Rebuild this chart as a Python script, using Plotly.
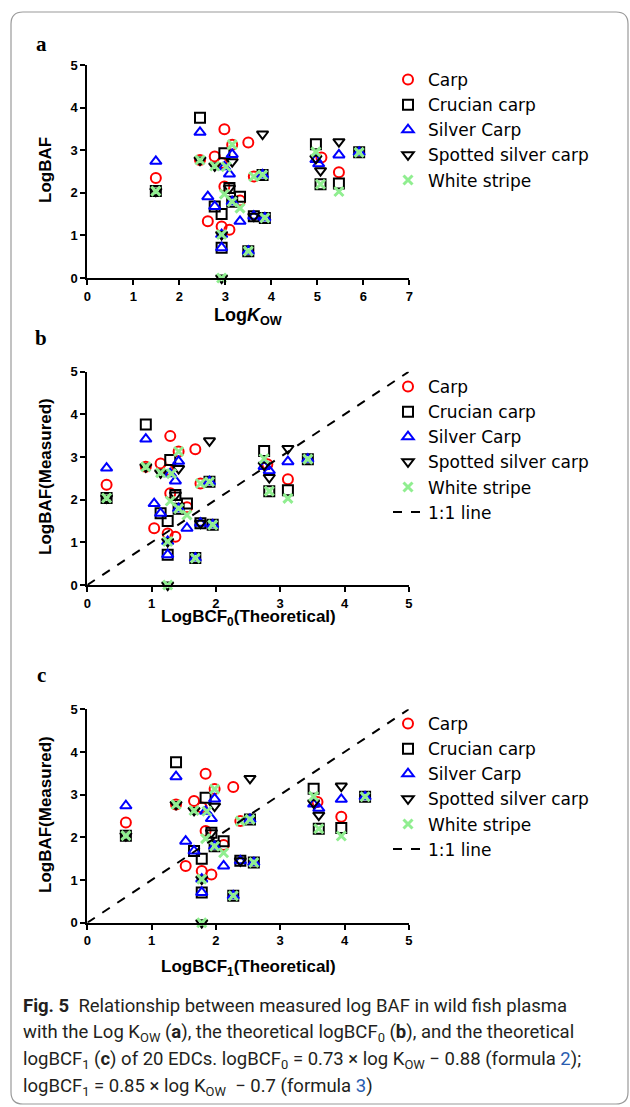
import plotly.graph_objects as go

W, H = 630, 1107

# ---------------- data ----------------
# Carp
carp_kow  = [1.49, 2.45, 2.62, 2.77, 2.92, 2.92, 2.98, 2.98, 3.09, 3.15, 3.32, 3.50, 3.62, 5.09, 5.47]
carp_bcf0 = [0.30, 0.91, 1.04, 1.14, 1.25, 1.25, 1.29, 1.29, 1.37, 1.42, 1.55, 1.68, 1.76, 2.80, 3.12]
carp_bcf1 = [0.60, 1.38, 1.53, 1.66, 1.78, 1.78, 1.84, 1.84, 1.93, 1.98, 2.12, 2.27, 2.38, 3.58, 3.95]
carp_baf  = [2.35, 2.77, 1.33, 2.85, 1.21, 2.70, 3.49, 2.15, 1.13, 3.13, 1.82, 3.18, 2.38, 2.83, 2.48]

# Crucian carp
cruc_kow  = [1.49, 2.45, 2.77, 2.92, 2.92, 2.98, 3.09, 3.15, 3.32, 3.50, 3.62, 3.81, 3.86, 4.97, 5.07, 5.47, 5.91]
cruc_bcf0 = [0.30, 0.91, 1.14, 1.25, 1.25, 1.29, 1.37, 1.42, 1.55, 1.68, 1.76, 1.90, 1.95, 2.75, 2.83, 3.12, 3.43]
cruc_bcf1 = [0.60, 1.38, 1.66, 1.78, 1.78, 1.84, 1.93, 1.98, 2.12, 2.27, 2.38, 2.53, 2.59, 3.52, 3.60, 3.95, 4.32]
cruc_baf  = [2.04, 3.76, 1.68, 1.50, 0.71, 2.93, 2.11, 1.79, 1.91, 0.63, 1.45, 2.42, 1.41, 3.14, 2.20, 2.22, 2.95]

# Silver carp
silv_kow  = [1.49, 2.45, 2.62, 2.77, 2.92, 2.92, 2.98, 3.09, 3.15, 3.15, 3.32, 3.50, 3.62, 3.81, 3.86, 4.97, 5.03, 5.47, 5.91]
silv_bcf0 = [0.30, 0.91, 1.04, 1.14, 1.25, 1.25, 1.29, 1.37, 1.42, 1.42, 1.55, 1.68, 1.76, 1.90, 1.95, 2.75, 2.83, 3.12, 3.43]
silv_bcf1 = [0.60, 1.38, 1.53, 1.66, 1.78, 1.78, 1.84, 1.93, 1.98, 1.98, 2.12, 2.27, 2.38, 2.53, 2.59, 3.52, 3.60, 3.95, 4.32]
silv_baf  = [2.74, 3.42, 1.91, 1.68, 1.02, 0.71, 2.61, 2.44, 2.90, 1.79, 1.33, 0.63, 1.45, 2.42, 1.41, 2.78, 2.68, 2.89, 2.95]

# Spotted silver carp
spot_kow  = [1.49, 2.45, 2.77, 2.92, 2.92, 3.09, 3.15, 3.62, 3.81, 4.97, 5.07, 5.47]
spot_bcf0 = [0.30, 0.91, 1.14, 1.25, 1.25, 1.37, 1.42, 1.76, 1.90, 2.75, 2.83, 3.12]
spot_bcf1 = [0.60, 1.38, 1.66, 1.78, 1.78, 1.93, 1.98, 2.38, 2.53, 3.52, 3.60, 3.95]
spot_baf  = [2.04, 2.77, 2.63, 1.02, 0.00, 2.11, 2.73, 1.45, 3.38, 2.81, 2.52, 3.20]

# White stripe
whit_kow  = [1.49, 2.45, 2.77, 2.92, 2.92, 3.02, 2.98, 3.15, 3.15, 3.32, 3.50, 3.62, 3.81, 3.86, 4.97, 5.07, 5.47, 5.91]
whit_bcf0 = [0.30, 0.91, 1.14, 1.25, 1.25, 1.31, 1.29, 1.42, 1.42, 1.55, 1.68, 1.76, 1.90, 1.95, 2.75, 2.83, 3.12, 3.43]
whit_bcf1 = [0.60, 1.38, 1.66, 1.78, 1.78, 1.86, 1.84, 1.98, 1.98, 2.12, 2.27, 2.38, 2.53, 2.59, 3.52, 3.60, 3.95, 4.32]
whit_baf  = [2.04, 2.77, 2.63, 1.02, 0.00, 2.61, 1.97, 3.13, 1.79, 1.64, 0.63, 2.38, 2.42, 1.41, 2.96, 2.20, 2.03, 2.95]

species_names = ["Carp", "Crucian carp", "Silver Carp", "Spotted silver carp", "White stripe"]
line_x = [0, 5]
line_y = [0, 5]

# ---------------- styles ----------------
styles = [
    dict(symbol="circle-open", color="#ff0000", size=10, lw=2),
    dict(symbol="square-open", color="#000000", size=10, lw=2),
    dict(symbol="triangle-up-open", color="#0000ff", size=10, lw=2),
    dict(symbol="triangle-down-open", color="#000000", size=10, lw=2),
    dict(symbol="x-thin-open", color="#90ee90", size=9, lw=3),
]
series = [
    (carp_kow, carp_bcf0, carp_bcf1, carp_baf),
    (cruc_kow, cruc_bcf0, cruc_bcf1, cruc_baf),
    (silv_kow, silv_bcf0, silv_bcf1, silv_baf),
    (spot_kow, spot_bcf0, spot_bcf1, spot_baf),
    (whit_kow, whit_bcf0, whit_bcf1, whit_baf),
]

fig = go.Figure()
panels = [("x", "y", "legend"), ("x2", "y2", "legend2"), ("x3", "y3", "legend3")]
for p, (xa, ya, lg) in enumerate(panels):
    for i, (name, st, ser) in enumerate(zip(species_names, styles, series)):
        fig.add_trace(go.Scatter(
            x=ser[p], y=ser[3], mode="markers", name=name,
            xaxis=xa, yaxis=ya, legend=lg, legendgroup=f"{lg}{i}",
            cliponaxis=False,
            marker=dict(symbol=st["symbol"], size=st["size"], color=st["color"],
                        line=dict(color=st["color"], width=st["lw"])),
        ))
    if p > 0:
        fig.add_trace(go.Scatter(
            x=line_x, y=line_y, mode="lines", name="1:1 line",
            xaxis=xa, yaxis=ya, legend=lg, legendgroup=f"{lg}line",
            line=dict(color="black", width=2, dash="dash"),
        ))

def px_x(v):
    return v / W

def px_y(v):
    return 1 - v / H

tickfont = dict(family="Liberation Sans, Arial", size=13, color="black", weight="bold")
axcommon = dict(showgrid=False, zeroline=False, showline=True, linewidth=2, linecolor="black",
                ticks="outside", ticklen=5, tickwidth=2, tickcolor="black", dtick=1,
                tickfont=tickfont, fixedrange=True, automargin=False)

# panel geometry (pixels)
xl = 87.3
geo = {
    "a": dict(x1=409.3, yb=278.0, yt=65.0, xr=[0, 7]),
    "b": dict(x1=408.8, yb=585.0, yt=371.7, xr=[0, 5]),
    "c": dict(x1=408.8, yb=922.7, yt=709.3, xr=[0, 5]),
}
ids = [("a", "xaxis", "yaxis", "x", "y"), ("b", "xaxis2", "yaxis2", "x2", "y2"),
       ("c", "xaxis3", "yaxis3", "x3", "y3")]
lay = {}
for key, xn, yn, xa, ya in ids:
    g = geo[key]
    lay[xn] = dict(axcommon, domain=[px_x(xl), px_x(g["x1"])], range=g["xr"], anchor=ya)
    lay[yn] = dict(axcommon, domain=[px_y(g["yb"]), px_y(g["yt"])], range=[0, 5], anchor=xa)
fig.update_layout(**lay)

legfont = dict(family="DejaVu Sans, Verdana", size=17, color="black")
def leg(top_px):
    return dict(x=px_x(388), y=px_y(top_px), xanchor="left", yanchor="top",
                font=legfont, bgcolor="rgba(0,0,0,0)", tracegroupgap=0,
                itemclick=False, itemdoubleclick=False)

fig.update_layout(
    width=W, height=H,
    margin=dict(l=0, r=0, t=0, b=0, pad=0, autoexpand=False),
    paper_bgcolor="white", plot_bgcolor="white",
    legend=leg(62), legend2=leg(369), legend3=leg(706),
)

title_font = dict(family="Liberation Sans, Arial", size=17, color="black", weight="bold")
ann = []
def A(text, x, y, **kw):
    d = dict(text=text, x=px_x(x), y=px_y(y), xref="paper", yref="paper",
             xanchor="center", yanchor="middle",
             showarrow=False, font=title_font)
    d.update(kw)
    ann.append(d)

# panel letters
letfont = dict(family="Liberation Serif, Times New Roman", size=21, color="black", weight="bold")
A("a", 41, 44, font=letfont)
A("b", 41, 338, font=letfont)
A("c", 41, 675, font=letfont)
# axis titles
A("LogBAF", 45, 170, textangle=-90)
A("LogBAF(Measured)", 45, 477, textangle=-90)
A("LogBAF(Measured)", 45, 815, textangle=-90)
A("Log<i>K</i><sub>OW</sub>", 248, 317, font=dict(title_font, size=18))
A("LogBCF<sub>0</sub>(Theoretical)", 248, 618)
A("LogBCF<sub>1</sub>(Theoretical)", 248, 968)

# caption
capfont = dict(family="Roboto, Open Sans", size=18.5, color="#231f20")
blue = "#2a5db0"
cap = [
    "<b>Fig. 5</b>  Relationship between measured log BAF in wild fish plasma",
    "with the Log K<sub>OW</sub> (<b>a</b>), the theoretical logBCF<sub>0</sub> (<b>b</b>), and the theoretical",
    f"logBCF<sub>1</sub> (<b>c</b>) of 20 EDCs. logBCF<sub>0</sub> = 0.73 × log K<sub>OW</sub> − 0.88 (formula <span style='color:{blue}'>2</span>);",
    f"logBCF<sub>1</sub> = 0.85 × log K<sub>OW</sub>  − 0.7 (formula <span style='color:{blue}'>3</span>)",
]
for i, t in enumerate(cap):
    A(t, 21, 1006 + 27 * i, xanchor="left", font=capfont)

fig.update_layout(annotations=ann)

# rounded frame
x0, x1, y0, y1, r = 11, 628, 12, 1104, 12
def P(x, y):
    return f"{x / W:.5f},{1 - y / H:.5f}"
path = (f"M {P(x0 + r, y0)} L {P(x1 - r, y0)} Q {P(x1, y0)} {P(x1, y0 + r)} "
        f"L {P(x1, y1 - r)} Q {P(x1, y1)} {P(x1 - r, y1)} L {P(x0 + r, y1)} "
        f"Q {P(x0, y1)} {P(x0, y1 - r)} L {P(x0, y0 + r)} Q {P(x0, y0)} {P(x0 + r, y0)} Z")
fig.add_shape(type="path", path=path, xref="paper", yref="paper",
              line=dict(color="#9a9a9a", width=1.2), layer="below")

fig.write_html("out.html")
